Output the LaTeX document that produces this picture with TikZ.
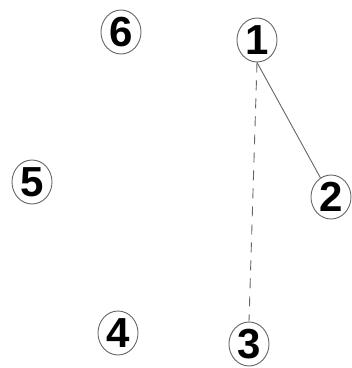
\documentclass[tikz,border=0pt]{standalone}
\usepackage{fontspec}
\setmainfont{Liberation Sans}
\usetikzlibrary{shapes.geometric}

\begin{document}
\begin{tikzpicture}[
  x=1pt, y=-1pt,
  vertex/.style={draw=black!60, line width=0.9pt, ellipse, inner sep=0pt,
                 minimum width=40pt, minimum height=44pt,
                 font=\fontsize{42}{44}\selectfont\bfseries},
  edge/.style={draw=black!60, line width=0.9pt},
  dashededge/.style={draw=black!60, line width=0.9pt, dash pattern=on 10pt off 8pt}
]
\useasboundingbox (0,0) rectangle (352,368);

\node[vertex] (n1) at (257,40) {1};
\node[vertex] (n2) at (331,197) {2};
\node[vertex] (n3) at (249,344) {3};
\node[vertex] (n4) at (118,333) {4};
\node[vertex] (n5) at (32,182) {5};
\node[vertex] (n6) at (121,32) {6};

\draw[edge] (n1.south) -- (n2);
\draw[dashededge] (n1.south) -- (n3.north);

\end{tikzpicture}
\end{document}
